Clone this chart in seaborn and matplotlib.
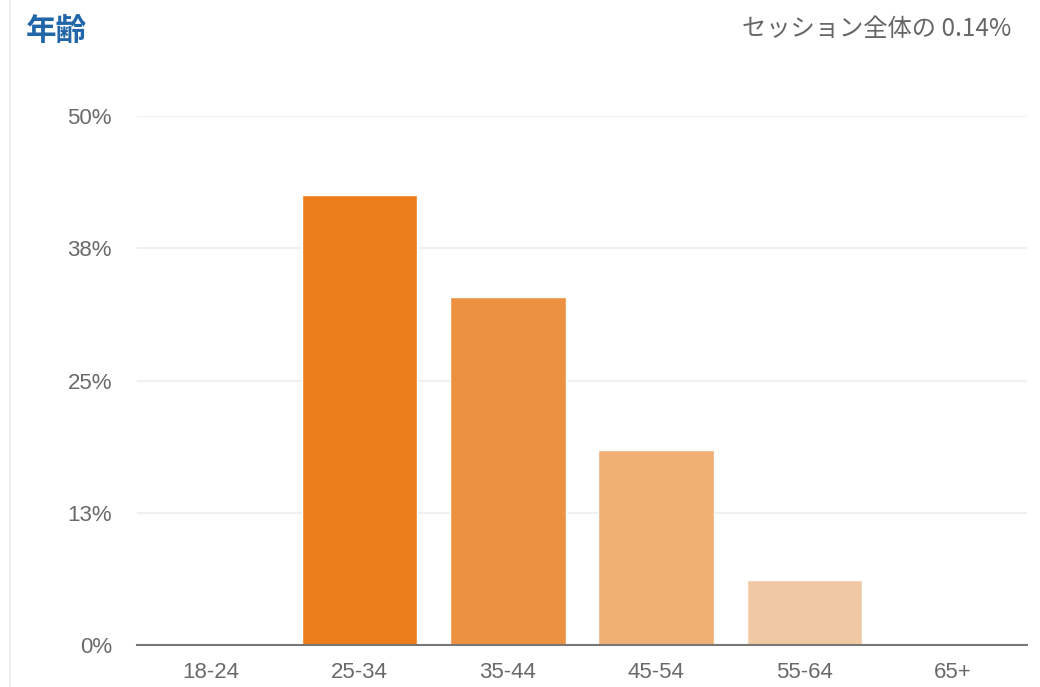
import matplotlib
matplotlib.use("Agg")
import matplotlib.pyplot as plt
import seaborn as sns
import pandas as pd
from matplotlib.lines import Line2D

categories = ["18-24", "25-34", "35-44", "45-54", "55-64", "65+"]
values = [0.0, 42.5, 32.9, 18.4, 6.1, 0.0]
tick_values = [0, 12.5, 25, 37.5, 50]
tick_labels = ["0%", "13%", "25%", "38%", "50%"]
bar_colors = ["#EC7D1A", "#EC7D1A", "#EC9140", "#F0AF75", "#F1C8A4", "#F1C8A4"]
title = "年齢"
subtitle = "セッション全体の 0.14%"

sns.set_theme(style="white")
plt.rcParams['font.family'] = ['Noto Sans CJK JP', 'DejaVu Sans']

df = pd.DataFrame({"age": categories, "share": values})

fig = plt.figure(figsize=(10.4, 6.87), dpi=100)
ax = fig.add_axes([0.1317, 0.0611, 0.8558, 0.770])

sns.barplot(data=df, x="age", y="share", hue="age", palette=bar_colors,
            legend=False, width=0.78, saturation=1, ax=ax, zorder=3)

ax.set_ylim(0, 50)
ax.set_xlim(-0.5, len(categories) - 0.5)
ax.set_yticks(tick_values)
ax.set_yticklabels(tick_labels)
ax.set_xlabel("")
ax.set_ylabel("")
ax.yaxis.grid(True, color="#EDEDED", linewidth=1.2, zorder=0)
ax.set_axisbelow(True)
for s in ["top", "right", "left"]:
    ax.spines[s].set_visible(False)
ax.spines["bottom"].set_color("#777777")
ax.spines["bottom"].set_linewidth(1.5)
ax.spines["bottom"].set_zorder(4)
ax.tick_params(axis="y", length=0, pad=18, labelsize=16, labelcolor="#6A6A6A")
ax.tick_params(axis="x", length=0, pad=12, labelsize=16, labelcolor="#6A6A6A")
for lbl in ax.get_yticklabels() + ax.get_xticklabels():
    lbl.set_fontfamily(['Liberation Sans'])

fig.text(0.025, 0.955, title, color="#2166A8", fontsize=22, fontweight="bold",
         ha="left", va="center")
fig.text(0.972, 0.958, subtitle, color="#666666", fontsize=17.5, ha="right", va="center")

fig.add_artist(Line2D([0.0096, 0.0096], [0, 1], transform=fig.transFigure,
                      color="#EEEEEE", linewidth=1.5))

fig.savefig("out.png", dpi=100)
